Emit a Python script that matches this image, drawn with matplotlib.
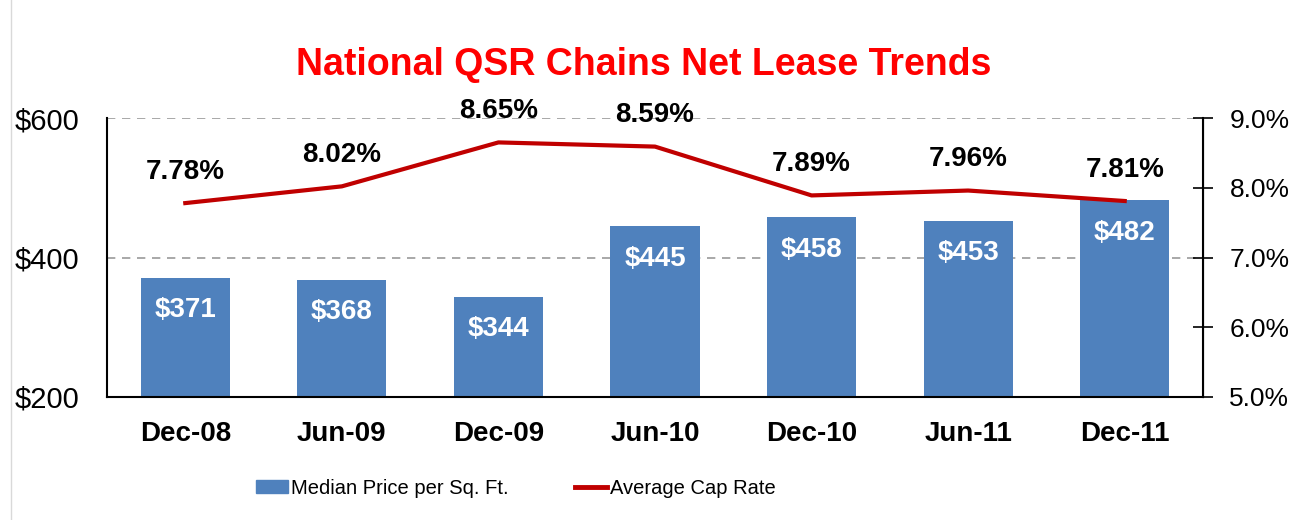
import matplotlib
matplotlib.use("Agg")
import matplotlib.pyplot as plt
from matplotlib.lines import Line2D

categories = ["Dec-08", "Jun-09", "Dec-09", "Jun-10", "Dec-10", "Jun-11", "Dec-11"]
price = [371, 368, 344, 445, 458, 453, 482]
cap_rate = [7.78, 8.02, 8.65, 8.59, 7.89, 7.96, 7.81]
left_ticks = [200, 400, 600]
right_ticks = [5.0, 6.0, 7.0, 8.0, 9.0]

plt.rcParams['font.family'] = ['Liberation Sans', 'DejaVu Sans']

fig = plt.figure(figsize=(12.96, 5.2), dpi=100)
ax = fig.add_axes([107/1296, 1-397/520, (1203-107)/1296, (397-118)/520])
ax2 = ax.twinx()

x = list(range(len(categories)))
bar_color = "#4F81BD"
line_color = "#C00000"

ax.bar(x, price, width=0.57, color=bar_color, zorder=2)
ax.set_ylim(200, 600)
ax.set_xlim(-0.5, 6.5)
ax.set_yticks(left_ticks)
ax.set_yticklabels([f"${v}" for v in left_ticks], fontsize=21)
ax.tick_params(axis='y', length=0, pad=20)
ax.set_xticks(x)
ax.set_xticklabels(categories, fontsize=20, fontweight='bold')
ax.tick_params(axis='x', length=0, pad=17)
for v in [400, 600]:
    ax.axhline(v, color="#9a9a9a", lw=1.2, ls=(0, (5, 4)), zorder=1)
ax.spines['top'].set_visible(False)
ax.spines['left'].set_linewidth(1.5)
ax.spines['bottom'].set_linewidth(1.5)

for xi, v in zip(x, price):
    ax.annotate(f"${v}", (xi, v), xytext=(0, -23.5), textcoords='offset points',
                ha='center', va='center', color='white', fontsize=20,
                fontweight='bold', zorder=3)

ax2.plot(x, cap_rate, color=line_color, lw=3, zorder=4)
ax2.set_ylim(5.0, 9.0)
ax2.set_yticks(right_ticks)
ax2.set_yticklabels([f"{v:.1f}%" for v in right_ticks], fontsize=19)
ax2.tick_params(axis='y', direction='inout', length=14, width=1.2, pad=12)
ax2.spines['top'].set_visible(False)
ax2.spines['left'].set_visible(False)
ax2.spines['bottom'].set_visible(False)
ax2.spines['right'].set_linewidth(1.5)
for xi, v in zip(x, cap_rate):
    ax2.annotate(f"{v:.2f}%", (xi, v), xytext=(0, 22.5), textcoords='offset points',
                 ha='center', va='center', color='black', fontsize=20,
                 fontweight='bold')

fig.text(644/1296, 1-65/520, "National QSR Chains Net Lease Trends", ha='center',
         va='center', color='#FF0000', fontsize=27, fontweight='bold')

handles = [plt.Rectangle((0, 0), 1, 1, color=bar_color),
           Line2D([0], [0], color=line_color, lw=3.5)]
fig.legend(handles, ["Median Price per Sq. Ft.", "Average Cap Rate"],
           loc='center', bbox_to_anchor=(516/1296, 1-488/520), ncol=2,
           frameon=False, fontsize=14.5, columnspacing=3.3, handlelength=1.6,
           handletextpad=0.15, handleheight=0.6)

fig.add_artist(Line2D([11/1296, 11/1296], [0, 1], color="#d9d9d9", lw=1,
                      transform=fig.transFigure))

fig.savefig("out.png", dpi=100)
